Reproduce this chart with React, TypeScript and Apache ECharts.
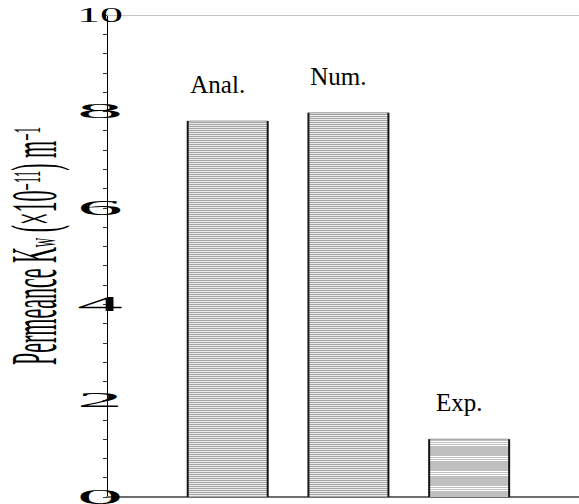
import React, { useEffect, useRef } from 'react';
import * as echarts from 'echarts';

// ---- data ----
const CATEGORIES = ['Anal.', 'Num.', 'Exp.'];
const PERMEANCE = [7.8, 7.97, 1.2];
const BAR_POSITIONS = [1, 2, 3];
const Y_TICK_VALUES = [0, 2, 4, 6, 8, 10];
const Y_TICK_LABELS = ['0', '2', '4', '6', '8', '10'];
const Y_TITLE_PARTS = ['Permeance K', 'w', ' (×10', '−11', ') m', '−1'];

// ---- style constants ----
const SERIF = '"Liberation Serif", "Times New Roman", serif';
const BAR_WIDTH = 80;
const LABEL_DX = -10;
const LABEL_GAP = 24;
const TICK_FONT = 20;
const TICK_LABEL_WIDTH = 46;

function makePattern(rows: string[], w: number) {
  const c = document.createElement('canvas');
  c.width = w;
  c.height = rows.length;
  const ctx = c.getContext('2d')!;
  rows.forEach((col, i) => {
    ctx.fillStyle = col;
    ctx.fillRect(0, i, w, 1);
  });
  return { image: c.toDataURL(), repeat: 'repeat', imageWidth: w, imageHeight: rows.length };
}

export default function App() {
  const ref = useRef<HTMLDivElement>(null);

  useEffect(() => {
    if (!ref.current) return;
    const chart = echarts.init(ref.current, null, { renderer: 'svg' });

    const fine = makePattern(['#a4a4a4', '#ececec'], 4);
    const expRows: string[] = [];
    for (let i = 0; i < 15; i++) expRows.push(i === 6 || i === 8 || i === 10 ? '#ffffff' : '#bfbfbf');
    const coarse = makePattern(expRows, 4);
    const fills = [fine, fine, coarse];

    const barData = BAR_POSITIONS.map((x, i) => [x, PERMEANCE[i]]);
    const tickData = Y_TICK_VALUES.map((v) => [0, v]);

    const option: any = {
      animation: false,
      backgroundColor: '#ffffff',
      grid: { left: 107, right: 0, top: 15, bottom: 7, containLabel: false },
      xAxis: [
        {
          type: 'value',
          min: 0,
          max: 3.91,
          axisLine: { show: true, onZero: false, lineStyle: { color: '#6e6e6e', width: 2 } },
          axisTick: { show: false },
          axisLabel: { show: false },
          splitLine: { show: false },
        },
        {
          type: 'value',
          position: 'top',
          min: 0,
          max: 3.91,
          axisLine: { show: true, onZero: false, lineStyle: { color: '#c4c4c4', width: 1 } },
          axisTick: { show: false },
          axisLabel: { show: false },
          splitLine: { show: false },
        },
      ],
      yAxis: {
        type: 'value',
        min: 0,
        max: 10,
        interval: 2,
        axisLine: { show: true, lineStyle: { color: '#000000', width: 1 } },
        axisTick: { show: true, length: 4, lineStyle: { color: '#333', width: 1 } },
        minorTick: { show: true, splitNumber: 5, length: 4, lineStyle: { color: '#333', width: 1 } },
        axisLabel: { show: false },
        splitLine: { show: false },
      },
      graphic: [
        {
          type: 'text',
          x: 34,
          y: 246,
          rotation: Math.PI / 2,
          scaleY: 3.0,
          style: {
            text:
              '{n|' + Y_TITLE_PARTS[0] + '}{s|' + Y_TITLE_PARTS[1] + '}{n|' + Y_TITLE_PARTS[2] +
              '}{p|' + Y_TITLE_PARTS[3] + '}{n|' + Y_TITLE_PARTS[4] + '}{p|' + Y_TITLE_PARTS[5] + '}',
            rich: {
              n: { fontSize: 22, fontFamily: SERIF, lineHeight: 18, fill: '#000' },
              s: { fontSize: 13, fontFamily: SERIF, lineHeight: 18, verticalAlign: 'bottom', fill: '#000' },
              p: { fontSize: 13, fontFamily: SERIF, lineHeight: 18, verticalAlign: 'top', fill: '#000' },
            },
            align: 'center',
            verticalAlign: 'middle',
            textAlign: 'center',
            textVerticalAlign: 'middle',
            fill: '#000',
          },
        },
      ],
      series: [
        {
          type: 'custom',
          coordinateSystem: 'cartesian2d',
          encode: { x: 0, y: 1 },
          data: barData,
          clip: false,
          renderItem: (params: any, api: any) => {
            const x = api.value(0);
            const v = api.value(1);
            const base = api.coord([x, 0]);
            const top = api.coord([x, v]);
            const half = BAR_WIDTH / 2;
            const i = params.dataIndex;
            return {
              type: 'group',
              children: [
                {
                  type: 'rect',
                  shape: { x: base[0] - half, y: top[1], width: BAR_WIDTH, height: base[1] - top[1] },
                  style: { fill: fills[i], stroke: null },
                },
                {
                  type: 'line',
                  shape: { x1: base[0] - half, y1: top[1], x2: base[0] + half, y2: top[1] },
                  style: { stroke: '#9a9a9a', lineWidth: 1 },
                },
                {
                  type: 'line',
                  shape: { x1: base[0] - half, y1: top[1], x2: base[0] - half, y2: base[1] },
                  style: { stroke: '#151515', lineWidth: 2 },
                },
                {
                  type: 'line',
                  shape: { x1: base[0] + half, y1: top[1], x2: base[0] + half, y2: base[1] },
                  style: { stroke: '#151515', lineWidth: 2 },
                },
                {
                  type: 'text',
                  x: base[0] + LABEL_DX,
                  y: top[1] - LABEL_GAP,
                  style: {
                    text: CATEGORIES[i],
                    fontSize: 25,
                    fontFamily: SERIF,
                    fill: '#000',
                    align: 'center',
                    verticalAlign: 'bottom',
                    textAlign: 'center',
                    textVerticalAlign: 'bottom',
                  },
                },
              ],
            };
          },
          z: 2,
        },
        {
          type: 'custom',
          coordinateSystem: 'cartesian2d',
          encode: { x: 0, y: 1 },
          data: tickData,
          clip: false,
          renderItem: (params: any, api: any) => {
            const v = api.value(1);
            const p = api.coord([0, v]);
            const label = Y_TICK_LABELS[params.dataIndex];
            const sx = TICK_LABEL_WIDTH / (label.length * 0.5 * TICK_FONT);
            return {
              type: 'text',
              x: p[0] - 7,
              y: p[1],
              scaleX: sx,
              style: {
                text: label,
                fontSize: TICK_FONT,
                fontFamily: SERIF,
                fill: '#000',
                align: 'center',
                verticalAlign: 'middle',
                textAlign: 'center',
                textVerticalAlign: 'middle',
              },
            };
          },
          z: 5,
        },
      ],
    };

    chart.setOption(option);
    return () => chart.dispose();
  }, []);

  return (
    <div
      ref={ref}
      style={{ position: 'fixed', left: 0, top: 0, width: 579, height: 504, background: '#fff' }}
    />
  );
}
